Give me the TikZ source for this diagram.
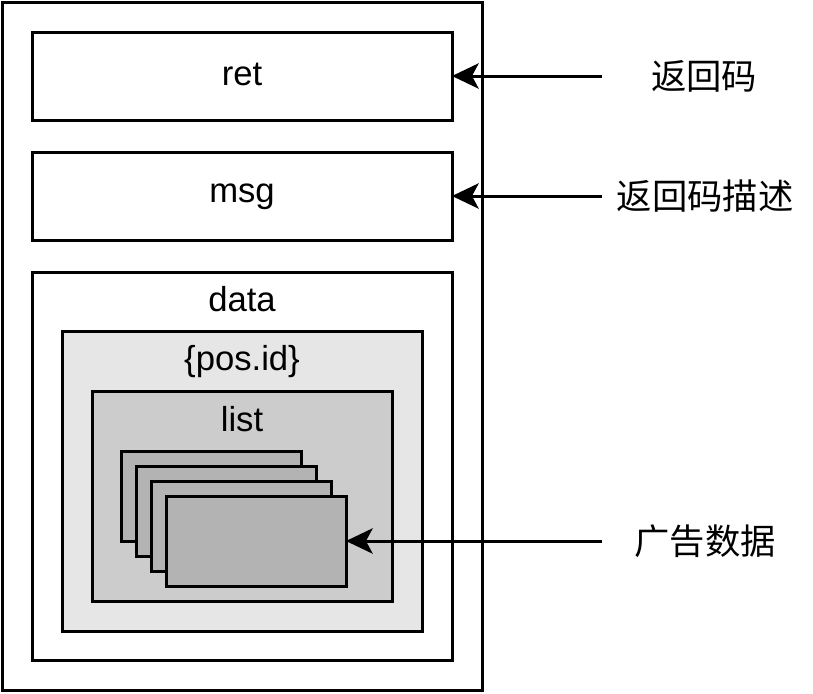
\documentclass[tikz,border=0pt]{standalone}
\usepackage{fontspec}
\setmainfont{Liberation Sans}
\newfontfamily\cjk{Noto Sans CJK SC}
\usetikzlibrary{arrows.meta,positioning}
\definecolor{posgray}{HTML}{E6E6E6}
\definecolor{listgray}{HTML}{CCCCCC}
\definecolor{cardgray}{HTML}{B3B3B3}

\begin{document}
\begin{tikzpicture}[x=0.75pt,y=-0.75pt,line width=2.25pt,
        >={Stealth[length=20pt,width=19pt,inset=5pt]},
        box/.style={draw,rectangle,anchor=north west,inner sep=0pt,outer sep=0pt},
        txt/.style={inner sep=0pt,anchor=base,font=\fontsize{26}{30}\selectfont},
        card/.style={box,fill=cardgray,minimum width=135pt,minimum height=67.5pt},
        note/.style={inner sep=0pt,font=\cjk\fontsize{26.5}{30}\selectfont}]

  \useasboundingbox (0,0) rectangle (813,693);

  \node[box,minimum width=360pt,minimum height=516pt] (resp) at (2,2) {};
  \node[box,minimum width=315pt,minimum height=66pt] (ret) at (32,32) {};
  \node[box,minimum width=315pt,minimum height=66pt] (msg) at (32,152) {};
  \node[box,minimum width=315pt,minimum height=291pt] (data) at (32,272) {};
  \node[box,fill=posgray,minimum width=270pt,minimum height=225pt] (posid) at (62,331) {};
  \node[box,fill=listgray,minimum width=225pt,minimum height=157.5pt] (list) at (92,391) {};

  \node[txt] (rett) at ([yshift=-6.75pt]ret.center) {ret};
  \node[txt] (msgt) at ([yshift=-4.5pt]msg.center) {msg};
  \node[txt] (datat) at ([yshift=-29.25pt]data.north) {data};
  \node[txt] (posidt) at ([yshift=-29.5pt]posid.north) {\{pos.id\}};
  \node[txt] (listt) at ([yshift=-30.5pt]list.north) {list};

  \foreach \i in {1,...,4}
    \node[card] (ad\i) at (106+15*\i,436+15*\i) {};

  \node[note] (retn) at (704,76) {返回码};
  \node[note] (msgn) at (705,196) {返回码描述};
  \node[note] (adn) at (705,541) {广告数据};

  \coordinate (s1) at (602,76);
  \coordinate (s2) at (602,196);
  \coordinate (s3) at (602,541);

  \draw[->] (s1) -- (ret.east);
  \draw[->] (s2) -- (msg.east);
  \draw[->] (s3) -- (ad4.east);

\end{tikzpicture}
\end{document}
